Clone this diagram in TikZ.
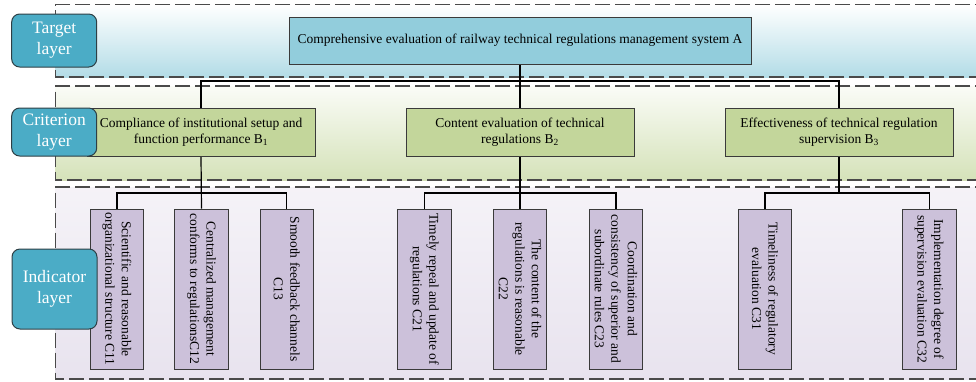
\documentclass[tikz,border=0pt]{standalone}
\usepackage{fontspec}
\setmainfont{Liberation Serif}
\usetikzlibrary{backgrounds}

\definecolor{layerfill}{HTML}{4BACC6}
\definecolor{layerline}{HTML}{2E3F45}
\definecolor{goalfill}{HTML}{92CDDC}
\definecolor{critfill}{HTML}{C3D69B}
\definecolor{indfill}{HTML}{CCC1DA}
\definecolor{boxline}{HTML}{3A3A3A}
\definecolor{bandline}{HTML}{4A4A4A}

\tikzset{
  band/.style={draw=bandline, line width=1.1pt, dash pattern=on 15pt off 5pt},
  layerlabel/.style={draw=layerline, line width=1pt, fill=layerfill, rounded corners=8pt,
    text=white, align=center, inner sep=0pt, minimum width=85pt,
    font=\fontsize{17.5}{21}\selectfont},
  goalbox/.style={draw=boxline, line width=0.9pt, fill=goalfill, inner sep=0pt,
    minimum width=462pt, minimum height=47pt, font=\fontsize{13.5}{16}\selectfont},
  critbox/.style={draw=boxline, line width=0.9pt, fill=critfill, inner sep=0pt, align=center,
    minimum width=228pt, minimum height=48pt, font=\fontsize{13.5}{16}\selectfont},
  indbox/.style={draw=boxline, line width=0.9pt, fill=indfill, inner sep=0pt,
    minimum width=53.5pt, minimum height=160pt},
  indtext/.style={rotate=-90, align=center, inner sep=0pt,
    font=\fontsize{13.5}{16.5}\selectfont},
  link/.style={draw=black, line width=1.2pt},
}

\begin{document}
\begin{tikzpicture}[x=1pt, y=-1pt]
  \useasboundingbox (0,0) rectangle (976,381);

  % layer bands
  \begin{scope}[on background layer]
    \shade[top color=white, middle color=goalfill!30!white, bottom color=goalfill!70!white]
      (55.7,4.7) rectangle (990,77);
    \draw[band] (990,4.7) -- (55.7,4.7) -- (55.7,77) -- (990,77);
    \shade[top color=critfill!8!white, middle color=critfill!30!white, bottom color=critfill!70!white]
      (55.7,86) rectangle (990,180);
    \draw[band] (990,86) -- (55.7,86) -- (55.7,180) -- (990,180);
    \shade[top color=indfill!20!white, middle color=indfill!60!white, bottom color=indfill!45!white]
      (55.7,187) rectangle (990,379);
    \draw[band] (990,187) -- (55.7,187) -- (55.7,379) -- (990,379);
  \end{scope}

  % goal
  \node[goalbox] (A) at (520,40.5)
    {Comprehensive evaluation of railway technical regulations management system A};

  % criteria
  \node[critbox] (B1) at (201,132)
    {Compliance of institutional setup and\\function performance B\textsubscript{1}};
  \node[critbox] (B2) at (520,132)
    {Content evaluation of technical\\regulations B\textsubscript{2}};
  \node[critbox] (B3) at (839,132)
    {Effectiveness of technical regulation\\supervision B\textsubscript{3}};

  % indicators
  \node[indbox] (C11) at (117,289) {};
  \node[indbox] (C12) at (201.5,289) {};
  \node[indbox] (C13) at (286.7,289) {};
  \node[indbox] (C21) at (424.3,289) {};
  \node[indbox] (C22) at (520,289) {};
  \node[indbox] (C23) at (616,289) {};
  \node[indbox] (C31) at (765,289) {};
  \node[indbox] (C32) at (929.3,289) {};

  \node[indtext] (t11) at (C11) {Scientific and reasonable\\organizational structure C11};
  \node[indtext] (t12) at (C12) {Centralized management\\conforms to regulationsC12};
  \node[indtext] (t13) at (C13) {Smooth feedback channels\\C13};
  \node[indtext] (t21) at (C21) {Timely repeal and update of\\regulations C21};
  \node[indtext] (t22) at (C22) {The content of the\\regulations is reasonable\\C22};
  \node[indtext] (t23) at (C23) {Coordination and\\consistency of superior and\\subordinate rules C23};
  \node[indtext] (t31) at (C31) {Timeliness of regulatory\\evaluation C31};
  \node[indtext] (t32) at (C32) {Implementation degree of\\supervision evaluation C32};

  % tree connectors, kept behind the boxes
  \coordinate (busB) at (520,81);
  \coordinate (bus1) at (201,193);
  \coordinate (bus2) at (520,193);
  \coordinate (bus3) at (839,193);
  \begin{scope}[on background layer]
    \draw[link] (A.south) -- (B2.north);
    \draw[link] (B1.north) |- (busB) -| (B3.north);
    \draw[link] (B1.south) -- (C12.north);
    \draw[link] (C11.north) |- (bus1) -| (C13.north);
    \draw[link] (B2.south) -- (C22.north);
    \draw[link] (C21.north) |- (bus2) -| (C23.north);
    \draw[link] (B3.south) -- (bus3);
    \draw[link] (C31.north) |- (bus3) -| (C32.north);
  \end{scope}

  % layer labels
  \node[layerlabel, minimum height=53pt] (Lt) at (54.2,40.5) {Target\\layer};
  \node[layerlabel, minimum height=48pt] (Lc) at (54.2,132) {Criterion\\layer};
  \node[layerlabel, minimum height=80pt] (Li) at (54.5,289) {Indicator\\layer};
\end{tikzpicture}
\end{document}
